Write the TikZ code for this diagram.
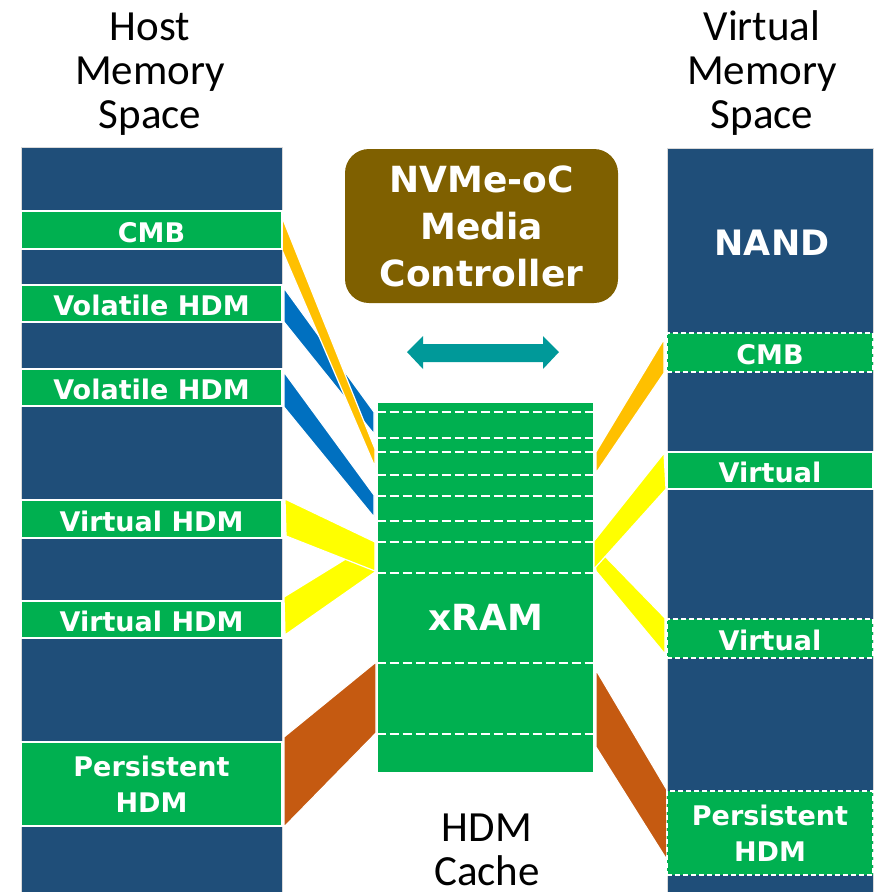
\documentclass[tikz,border=0pt]{standalone}
\usepackage{fontspec}
\setmainfont{Carlito}
\newfontfamily\lbl{DejaVu Sans}
\definecolor{navy}{RGB}{31,78,121}
\definecolor{grn}{RGB}{0,176,80}
\definecolor{amber}{RGB}{255,192,0}
\definecolor{azure}{RGB}{0,112,192}
\definecolor{lemon}{RGB}{255,255,0}
\definecolor{rust}{RGB}{197,90,17}
\definecolor{olive}{RGB}{127,96,0}
\definecolor{tealc}{RGB}{0,153,153}
\begin{document}
\begin{tikzpicture}[x=1pt,y=-1pt,
  col/.style={rectangle, fill=navy, draw=gray!30, line width=0.6pt, inner sep=0pt},
  bandbase/.style={rectangle, fill=grn, draw=white, line width=1.6pt, inner sep=0pt,
    text=white, align=center, font=\lbl\bfseries\fontsize{27}{36}\selectfont},
  band/.style={bandbase, text height=24pt, text depth=0pt},
  dashband/.style={band, dash pattern=on 5pt off 3pt},
  dashbandbase/.style={bandbase, dash pattern=on 5pt off 3pt},
  bigtxt/.style={text=white, inner sep=0pt, font=\lbl\bfseries\fontsize{36}{47}\selectfont, align=center},
  heading/.style={inner sep=0pt, align=center, font=\fontsize{43}{44}\selectfont},
  link/.style={draw=white, line width=1.2pt},
  slot/.style={draw=white, line width=1.8pt, dash pattern=on 9pt off 4pt}]
\useasboundingbox (0,0) rectangle (875,892);

% mapping bands, left side
\path[link, fill=azure] (284,288) -- (374,412) -- (374,434) -- (284,322) -- cycle;
\path[link, fill=azure] (284,372) -- (374,495) -- (374,517) -- (284,407) -- cycle;
\path[link, fill=amber] (282,217) -- (375,449) -- (375,467) -- (282,250) -- cycle;
\path[link, fill=lemon] (284,597) -- (375,541) -- (375,572) -- (285,635) -- cycle;
\path[link, fill=lemon] (285,499) -- (375,542) -- (375,571) -- (286,536) -- cycle;
\path[link, fill=rust] (284,737) -- (376,662) -- (376,733) -- (284,827) -- cycle;
% mapping bands, right side
\path[link, fill=amber] (596,452) -- (664,339) -- (664,373) -- (596,473) -- cycle;
\path[link, fill=lemon] (594,545) -- (665,618) -- (665,654) -- (596,571) -- cycle;
\path[link, fill=lemon] (594,541) -- (664,453) -- (666,489) -- (594,569) -- cycle;
\path[link, fill=rust] (596,670) -- (667,790) -- (667,860) -- (596,747) -- cycle;

% host memory space (base anchor sits on the last line)
\node[heading, anchor=base] (hosthead) at (150,128) {Host\\Memory\\Space};
\node[col, minimum width=261pt, minimum height=745pt] (hostcol) at (151.5,519.5) {};
\node[band, minimum width=261pt, minimum height=38pt] (cmbL) at (151.5,230) {CMB};
\node[band, minimum width=261pt, minimum height=37pt] (volA) at (151.5,303.5) {Volatile HDM};
\node[band, minimum width=261pt, minimum height=37pt] (volB) at (151.5,387.5) {Volatile HDM};
\node[band, minimum width=261pt, minimum height=38pt] (virA) at (151.5,519) {Virtual HDM};
\node[band, minimum width=261pt, minimum height=37pt] (virB) at (151.5,619.5) {Virtual HDM};
\node[bandbase, minimum width=261pt, minimum height=84pt] (perL) at (151.5,784) {Persistent\\HDM};

% virtual memory space
\node[heading, anchor=base] (virthead) at (762,128) {Virtual\\Memory\\Space};
\node[col, minimum width=206pt, minimum height=744pt] (virtcol) at (770,520) {};
\node[bigtxt, font=\lbl\bfseries\fontsize{35}{42}\selectfont, anchor=base] (nand) at (772,255) {NAND};
\node[dashband, minimum width=206pt, minimum height=39pt] (cmbR) at (770,352.5) {CMB};
\node[band, minimum width=206pt, minimum height=37pt] (virR1) at (770,470.5) {Virtual};
\node[dashband, minimum width=206pt, minimum height=39pt] (virR2) at (770,638.5) {Virtual};
\node[dashbandbase, minimum width=206pt, minimum height=84pt] (perR) at (770,833) {Persistent\\HDM};

% media controller
\node[bigtxt, fill=olive, rounded corners=24pt, minimum width=273pt, minimum height=154pt]
  (ctrl) at (481.5,226) {NVMe-oC\\Media\\Controller};
\fill[tealc] (407,352) -- (423,336) -- (423,344) -- (543,344) -- (543,336) -- (559,352)
  -- (543,369) -- (543,362) -- (423,362) -- (423,369) -- cycle;

% xRAM cache with its slots
\node[rectangle, fill=grn, draw=white, line width=0.8pt, minimum width=216pt,
  minimum height=370pt, inner sep=0pt] (xram) at (485,587) {};
\foreach \y in {412,438,452,475,496,521,542,573,663,734}
  \draw[slot] (xram.west |- 0,\y) -- (xram.east |- 0,\y);
\node[bigtxt, anchor=base] (xramtxt) at (486,630) {xRAM};
\node[heading, anchor=base] (cachehead) at (487,885) {HDM\\Cache};
\end{tikzpicture}
\end{document}
